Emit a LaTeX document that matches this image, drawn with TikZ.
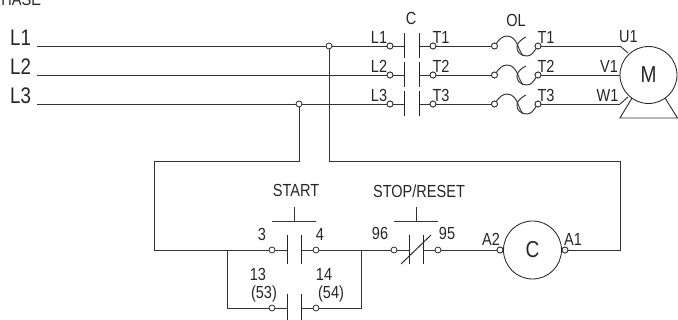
\documentclass[tikz,border=0pt]{standalone}
\usepackage{fontspec}
\setmainfont{Liberation Sans}
\newcommand{\nar}[1]{\scalebox{0.83}[1]{#1}}
\tikzset{x=1pt,y=-1pt,
 wire/.style={line width=0.95pt,color=black!80},
 term/.style={circle,draw=black!85,fill=white,line width=0.75pt,inner sep=0pt,minimum size=6pt},
 lbl/.style={inner sep=0pt,font=\fontsize{17.5}{17.5}\selectfont,text=black!85},
 big/.style={inner sep=0pt,font=\fontsize{22.5}{22.5}\selectfont,text=black!85},
 bar/.style={line width=0.95pt,color=black!85},
 ring/.style={circle,draw=black!85,fill=white,line width=0.85pt,inner sep=0pt,font=\fontsize{23}{23}\selectfont,text=black!85}}
\begin{document}
\begin{tikzpicture}
\useasboundingbox (0,0) rectangle (678,320);
\clip (0,0) rectangle (678,320);
\node[lbl,anchor=west] (ph) at (-8.5,-1) {\nar{PHASE}};
\foreach \n/\y in {1/46,2/75,3/104}{
 \node[big,anchor=west] (L\n) at (10,\y-8.5) {\nar{L\n}};
 \coordinate (s\n) at (37,\y);
 \node[term] (a\n) at (390,\y) {};
 \node[term] (b\n) at (433,\y) {};
 \node[term] (c\n) at (494.5,\y) {};
 \node[term] (d\n) at (538,\y) {};
 \coordinate (m\n) at (620,\y);
 \draw[wire] (s\n) -- (a\n);
 \draw[wire] (a\n) -- (404,\y) (419,\y) -- (b\n);
 \draw[bar] (404,\y-12.5) -- (404,\y+12.5) (419,\y-12.5) -- (419,\y+12.5);
 \draw[wire] (b\n) -- (c\n);
 \draw[wire] (d\n) -- (m\n);
 \draw[wire] (496,\y-2) .. controls (499,\y-7) and (503,\y-10) .. (507,\y-10) .. controls (513,\y-10) and (516,\y-5) .. (518,\y) .. controls (519,\y+3) and (521,\y+7) .. (523,\y+10);
 \draw[wire] (536.5,\y+2) .. controls (533,\y+7) and (531,\y+10) .. (527,\y+10) .. controls (521,\y+10) and (516,\y+6) .. (517,\y) .. controls (518,\y-4) and (522,\y-7) .. (526,\y-9);
 \node[lbl] (la\n) at (379,\y-8.5) {\nar{L\n}};
 \node[lbl] (lb\n) at (441,\y-8.5) {\nar{T\n}};
 \node[lbl] (ld\n) at (546,\y-8.5) {\nar{T\n}};
 \node[term] (a\n) at (390,\y) {};
 \node[term] (b\n) at (433,\y) {};
 \node[term] (c\n) at (494.5,\y) {};
 \node[term] (d\n) at (538,\y) {};
}
\node[lbl] (C) at (411,18) {\nar{C}};
\node[lbl] (OL) at (516,20) {\nar{OL}};
% motor
\draw[wire] (m1) -- (628,53) (m3) -- (628,97);
\draw[wire] (632,98) -- (620,118) -- (677.5,118) -- (665,98);
\node[ring,minimum size=57pt] (M) at (648.5,75) {\nar{M}};
\node[lbl] (U) at (628.5,37) {\nar{U1}};
\node[lbl] (V) at (609,66) {\nar{V1}};
\node[lbl] (W) at (607.5,95) {\nar{W1}};
% control
\node[term] (j1) at (329,46) {};
\node[term] (j3) at (299,104) {};
\coordinate (t1) at (329,161);
\coordinate (t3) at (299,161);
\coordinate (ll) at (154,161);
\coordinate (lb) at (154,250);
\coordinate (rr) at (620,161);
\coordinate (rb) at (620,250);
\node[term] (t3a) at (272,250) {};
\node[term] (t4a) at (316,250) {};
\node[term] (t13) at (272,308) {};
\node[term] (t14) at (316,308) {};
\node[term] (t96) at (394,250) {};
\node[term] (t95) at (438,250) {};
\node[term] (A2) at (500,250) {};
\node[term] (A1) at (565,250) {};
\coordinate (p1) at (227,250);
\coordinate (p2) at (227,308);
\coordinate (q1) at (361,250);
\coordinate (q2) at (361,308);
\draw[wire] (j1) -- (t1) -- (rr) -- (rb) -- (A1);
\draw[wire] (j3) -- (t3) -- (ll) -- (lb) -- (t3a);
\draw[wire] (p1) -- (p2) -- (t13);
\draw[wire] (t4a) -- (t96);
\draw[wire] (q1) -- (q2) -- (t14);
\draw[wire] (t95) -- (A2);
\draw[wire] (t3a) -- (287,250) (301,250) -- (t4a);
\draw[wire] (t13) -- (287,308) (301,308) -- (t14);
\draw[wire] (t96) -- (409,250) (423,250) -- (t95);
\draw[bar] (287,235) -- (287,264) (301,235) -- (301,264);
\draw[bar] (287,294) -- (287,320) (301,294) -- (301,320);
\draw[bar] (409,235) -- (409,264) (423,235) -- (423,264);
\draw[bar] (401,264) -- (431,235);
\draw[wire] (272,221) -- (316,221) (294,207) -- (294,221);
\draw[wire] (394,221) -- (438,221) (416,207) -- (416,221);
\node[ring,minimum size=58pt] (CC) at (532.5,250) {\nar{C}};
\node[term] at (500,250) {};
\node[term] at (565,250) {};
\node[lbl] (st) at (296,190) {\nar{START}};
\node[lbl] (sp) at (419,191) {\nar{STOP/RESET}};
\node[lbl] (n3) at (262,234) {\nar{3}};
\node[lbl] (n4) at (320,234) {\nar{4}};
\node[lbl] (n96) at (380,233) {\nar{96}};
\node[lbl] (n95) at (447,233) {\nar{95}};
\node[lbl] (x13) at (258,274) {\nar{13}};
\node[lbl] (x14) at (324,274) {\nar{14}};
\node[lbl] (x53) at (264,294) {\nar{(53)}};
\node[lbl] (x54) at (331,294) {\nar{(54)}};
\node[lbl] (la2) at (491,239) {\nar{A2}};
\node[lbl] (la1) at (573,239) {\nar{A1}};
\end{tikzpicture}
\end{document}
